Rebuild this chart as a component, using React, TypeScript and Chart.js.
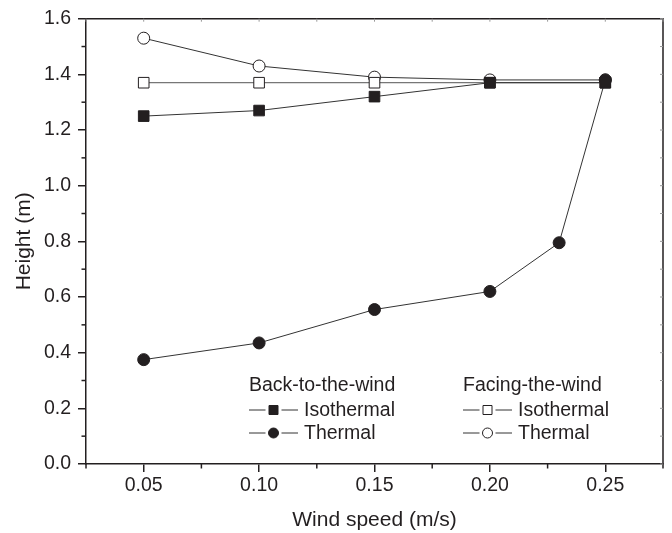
import React, { useEffect, useRef } from "react";
import { Chart, registerables } from "chart.js";

Chart.register(...registerables);

// ---- data ----
const xMajorTicks = [0.05, 0.1, 0.15, 0.2, 0.25];
const xMinorTicks = [0.025, 0.075, 0.125, 0.175, 0.225, 0.275];
const yMajorTicks = [0, 0.2, 0.4, 0.6, 0.8, 1.0, 1.2, 1.4, 1.6];
const yMinorTicks = [0.1, 0.3, 0.5, 0.7, 0.9, 1.1, 1.3, 1.5];

const backIsoX = [0.05, 0.1, 0.15, 0.2, 0.25];
const backIsoY = [1.25, 1.27, 1.32, 1.37, 1.37];
const backThermX = [0.05, 0.1, 0.15, 0.2, 0.23, 0.25];
const backThermY = [0.375, 0.435, 0.555, 0.62, 0.795, 1.38];
const faceIsoX = [0.05, 0.1, 0.15, 0.2, 0.25];
const faceIsoY = [1.37, 1.37, 1.37, 1.37, 1.37];
const faceThermX = [0.05, 0.1, 0.15, 0.2, 0.25];
const faceThermY = [1.53, 1.43, 1.39, 1.38, 1.38];

const groupTitles = ["Back-to-the-wind", "Facing-the-wind"];
const seriesLabels = ["Isothermal", "Thermal", "Isothermal", "Thermal"];

const FONT = "'Liberation Sans', Arial, sans-serif";
const INK = "#231f20";

const pts = (xs: number[], ys: number[]) => xs.map((x, i) => ({ x, y: ys[i] }));

const legendPlugin = {
  id: "customLegend",
  afterDraw(chart: any) {
    const ctx = chart.ctx;
    const ds = chart.data.datasets;
    ctx.save();
    ctx.fillStyle = INK;
    ctx.font = `19.5px ${FONT}`;
    ctx.textBaseline = "middle";
    const groups = [
      { x: 249, title: groupTitles[0], idx: [0, 1] },
      { x: 463, title: groupTitles[1], idx: [2, 3] },
    ];
    groups.forEach((g) => {
      ctx.fillStyle = INK;
      ctx.textAlign = "left";
      ctx.fillText(g.title, g.x, 386);
      g.idx.forEach((di, k) => {
        const y = 410 + k * 23;
        const d = ds[di];
        const cx = g.x + 24.5;
        ctx.lineWidth = 1;
        ctx.strokeStyle = "#333";
        ctx.beginPath();
        ctx.moveTo(g.x, y);
        ctx.lineTo(cx - 8, y);
        ctx.moveTo(cx + 8, y);
        ctx.lineTo(g.x + 49, y);
        ctx.stroke();
        ctx.beginPath();
        if (d.pointStyle === "rect") {
          ctx.rect(cx - 4.5, y - 4.5, 9, 9);
        } else {
          ctx.arc(cx, y, 5, 0, Math.PI * 2);
        }
        ctx.fillStyle = d.pointBackgroundColor;
        ctx.fill();
        ctx.lineWidth = 1;
        ctx.strokeStyle = INK;
        ctx.stroke();
        ctx.fillStyle = INK;
        ctx.fillText(seriesLabels[di], g.x + 55, y + 1);
      });
    });
    ctx.restore();
  },
};

const framePlugin = {
  id: "frame",
  afterDraw(chart: any) {
    const ctx = chart.ctx;
    const { left, right, top, bottom } = chart.chartArea;
    const xs = chart.scales.x;
    const ys = chart.scales.y;
    ctx.save();
    ctx.strokeStyle = INK;
    ctx.lineWidth = 1.5;
    ctx.beginPath();
    ctx.moveTo(left, top);
    ctx.lineTo(right, top);
    ctx.lineTo(right, bottom);
    ctx.stroke();
    xMinorTicks.forEach((v) => {
      const px = xs.getPixelForValue(v);
      ctx.beginPath();
      ctx.moveTo(px, bottom);
      ctx.lineTo(px, bottom + 4.5);
      ctx.stroke();
    });
    yMinorTicks.forEach((v) => {
      const py = ys.getPixelForValue(v);
      ctx.beginPath();
      ctx.moveTo(left, py);
      ctx.lineTo(left - 4.5, py);
      ctx.stroke();
    });
    ctx.strokeStyle = "#999";
    ctx.lineWidth = 1;
    xMajorTicks.concat(xMinorTicks).forEach((v) => {
      const px = xs.getPixelForValue(v);
      ctx.beginPath();
      ctx.moveTo(px, top);
      ctx.lineTo(px, top + 3);
      ctx.stroke();
    });
    yMajorTicks.concat(yMinorTicks).forEach((v) => {
      const py = ys.getPixelForValue(v);
      ctx.beginPath();
      ctx.moveTo(right, py);
      ctx.lineTo(right - 3, py);
      ctx.stroke();
    });
    ctx.restore();
  },
};

export default function App() {
  const ref = useRef<HTMLCanvasElement | null>(null);
  useEffect(() => {
    if (!ref.current) return;
    const base = {
      borderColor: "#333",
      borderWidth: 1,
      pointBorderColor: INK,
      pointBorderWidth: 1,
      showLine: true,
      tension: 0,
    };
    const chart = new Chart(ref.current, {
      type: "scatter",
      data: {
        datasets: [
          { ...base, label: "Back Isothermal", data: pts(backIsoX, backIsoY), pointStyle: "rect", pointRadius: 7.5, pointBackgroundColor: INK },
          { ...base, label: "Back Thermal", data: pts(backThermX, backThermY), pointStyle: "circle", pointRadius: 6, pointBackgroundColor: INK },
          { ...base, label: "Facing Isothermal", data: pts(faceIsoX, faceIsoY), pointStyle: "rect", pointRadius: 7.5, pointBackgroundColor: "#ffffff", borderColor: "#555" },
          { ...base, label: "Facing Thermal", data: pts(faceThermX, faceThermY), pointStyle: "circle", pointRadius: 6, pointBackgroundColor: "#ffffff" },
        ],
      } as any,
      options: {
        animation: false,
        responsive: false,
        maintainAspectRatio: false,
        layout: { padding: { top: 18, right: 9, left: 0, bottom: 0 } },
        plugins: { legend: { display: false }, tooltip: { enabled: false } },
        scales: {
          x: {
            type: "linear",
            min: 0.025,
            max: 0.275,
            afterBuildTicks: (s: any) => {
              s.ticks = xMajorTicks.map((v) => ({ value: v }));
            },
            afterFit: (s: any) => {
              s.height = 69;
            },
            ticks: {
              color: INK,
              font: { family: FONT, size: 19.5 },
              padding: 2,
              maxRotation: 0,
              autoSkip: false,
              callback: (v: any) => Number(v).toFixed(2),
            },
            grid: { drawOnChartArea: false, drawTicks: true, tickLength: 8, color: INK, lineWidth: 1.5 },
            border: { display: true, color: INK, width: 1.5 },
            title: { display: true, text: "Wind speed (m/s)", color: INK, font: { family: FONT, size: 21 }, padding: { top: 0, bottom: 0 } },
          },
          y: {
            type: "linear",
            min: 0,
            max: 1.6,
            afterBuildTicks: (s: any) => {
              s.ticks = yMajorTicks.map((v) => ({ value: v }));
            },
            afterFit: (s: any) => {
              s.width = 86;
            },
            ticks: {
              color: INK,
              font: { family: FONT, size: 19.5 },
              padding: 7,
              autoSkip: false,
              callback: (v: any) => Number(v).toFixed(1),
            },
            grid: { drawOnChartArea: false, drawTicks: true, tickLength: 8, color: INK, lineWidth: 1.5 },
            border: { display: true, color: INK, width: 1.5 },
            title: { display: true, text: "Height (m)", color: INK, font: { family: FONT, size: 21 }, padding: { top: 12, bottom: 0 } },
          },
        },
      } as any,
      plugins: [framePlugin, legendPlugin],
    });
    return () => chart.destroy();
  }, []);
  return (
    <div style={{ position: "absolute", left: 0, top: 0, width: 672, height: 533, background: "#fff" }}>
      <canvas ref={ref} width={672} height={533} style={{ width: 672, height: 533 }} />
    </div>
  );
}
